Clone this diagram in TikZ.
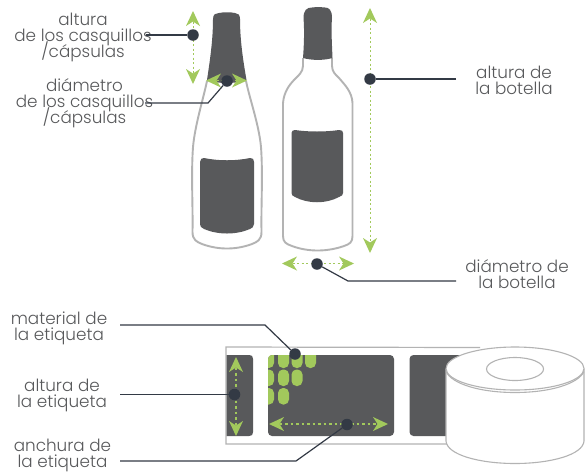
\documentclass[tikz,border=0pt]{standalone}
\usepackage{fontspec}
\setmainfont{Poppins}[UprightFont=* Light]
\usetikzlibrary{arrows.meta}
\setlength\normallineskiplimit{-20pt}
\setlength\lineskiplimit{-20pt}
\definecolor{dk}{HTML}{58595B}
\definecolor{gy}{HTML}{B3B3B3}
\definecolor{gn}{HTML}{A2C95C}
\definecolor{dt}{HTML}{333A45}
\tikzset{
  x=1pt,y=-1pt,
  lbl/.style={align=center,text=dk,font=\fontsize{16.8}{16}\selectfont,inner sep=0pt},
  dotn/.style={circle,fill=dt,minimum size=11.5pt,inner sep=0pt},
  leader/.style={draw=dt,line width=1.2pt},
  meas/.style={draw=gn,line width=0.9pt,dash pattern=on 2pt off 2.5pt,
    {Stealth[length=15pt,width=14pt,inset=4.5pt,fill=gn,line width=0pt]}-{Stealth[length=15pt,width=14pt,inset=4.5pt,fill=gn,line width=0pt]}},
  measthick/.style={meas,line width=1.3pt,dash pattern=on 2.5pt off 3pt},
  outl/.style={draw=gy,line width=1.9pt},
  rollline/.style={draw=gy,line width=1.1pt},
  oval/.style={fill=gn,rounded corners=5pt},
}
\begin{document}
\begin{tikzpicture}
\useasboundingbox (0,0) rectangle (585,472);
\fill[white] (0,0) rectangle (585,472);
% left bottle
\draw[outl,fill=white] (207,81) .. controls (203,100) and (195,125) .. (193,147)
  .. controls (191,175) and (193,205) .. (192.5,232)
  .. controls (192.5,240) and (197,242) .. (202,244)
  .. controls (218,250) and (236,250) .. (252,244)
  .. controls (257,242) and (261.5,240) .. (261.5,232)
  .. controls (261,205) and (263,175) .. (261,147)
  .. controls (259,125) and (250,100) .. (246,81);
\fill[dk] (213,19) .. controls (213,14) and (216,13) .. (219,13) .. controls (224,12) and (230,12) .. (235,13)
  .. controls (238,13) and (240,15) .. (240,19)
  .. controls (240,40) and (243,60) .. (246.5,80) .. controls (235,84) and (218,84) .. (207,80)
  .. controls (210,60) and (213,40) .. (213,19) -- cycle;
\fill[dk] (200,162) .. controls (200,159) and (202,158) .. (204,158) .. controls (218,161) and (236,161) .. (250,158)
  .. controls (253,158) and (254,159) .. (254,162) -- (254,224)
  .. controls (254,227) and (252,228) .. (250,229) .. controls (236,235) and (218,235) .. (204,229)
  .. controls (201,228) and (200,226) .. (200,224) -- cycle;
% right bottle
\draw[outl,fill=white] (303,58) -- (303,66) .. controls (303,72) and (298,76) .. (295,79)
  .. controls (289,85) and (284,92) .. (283,103)
  -- (283,236) .. controls (283,242) and (286,244) .. (292,246)
  .. controls (308,252) and (327,252) .. (344,246)
  .. controls (350,244) and (352.5,242) .. (352.5,236)
  -- (352.5,103) .. controls (352,92) and (345,85) .. (339,78)
  .. controls (336,75) and (332,72) .. (332,66) -- (332,58);
\fill[dk] (303.5,18) .. controls (303.5,10) and (307,7.5) .. (312,7.5) .. controls (316,7) and (320,7) .. (325,7.5)
  .. controls (329,7.5) and (332,10) .. (332,18)
  .. controls (331,30) and (332,45) .. (332.5,58) .. controls (324,60.5) and (312,60.5) .. (303,58)
  .. controls (304,45) and (304.5,30) .. (303.5,18) -- cycle;
\fill[dk] (291.5,133) .. controls (291.5,131) and (293,130) .. (295,130) .. controls (308,132) and (326,132) .. (339,130)
  .. controls (342,130) and (343,131) .. (343,133) -- (343,193)
  .. controls (343,195) and (342,196) .. (339,197) .. controls (326,204) and (308,204) .. (295,197)
  .. controls (292.5,196) and (291.5,195) .. (291.5,193) -- cycle;
% strip
\draw[draw=gy,line width=1.2pt] (480,347.5) -- (226,347) -- (226,444) -- (480,444);
\fill[dk] (226.5,355) -- (249,355) .. controls (252,355) and (253,356) .. (253,359) -- (253,432)
  .. controls (253,435) and (252,436) .. (249,436) -- (226.5,436) -- cycle;
\fill[dk,rounded corners=4pt] (268,355) rectangle (394,436);
\fill[dk,rounded corners=4pt] (409.5,355) rectangle (480,436);
\begin{scope}
\clip[rounded corners=4pt] (268,355) rectangle (394,436);
\foreach \xx/\yy/\hh in {263/345/23,278/345/23,291.5/345/23,305/345/23,263/369.5/16.5,278/369.5/16.5,291.5/369.5/16.5,263/388/16.5,278/388/16.5}{
  \fill[oval] (\xx,\yy) rectangle ++(11,\hh);
}
\end{scope}
% roll
\draw[rollline,fill=white] (446,369) -- (446,441)
  .. controls (447,455) and (480,463.5) .. (515,463.5)
  .. controls (550,463.5) and (583,455) .. (584,441) -- (584,369);
\draw[rollline,fill=white] (515,368.5) ellipse [x radius=69,y radius=21.5];
\draw[rollline] (446,371.5) .. controls (452,384) and (480,392.5) .. (515,392.5)
  .. controls (550,392.5) and (578,384) .. (584,371.5);
\draw[rollline] (515,369) ellipse [x radius=28.5,y radius=11.5];
% measure ends
\coordinate (a1t) at (193,11); \coordinate (a1b) at (193,84);
\coordinate (a2l) at (206,80.5); \coordinate (a2r) at (247,80.5);
\coordinate (a3t) at (370,8); \coordinate (a3b) at (370,253);
\coordinate (a4l) at (282,263.5); \coordinate (a4r) at (354,263.5);
\coordinate (a5t) at (236,357); \coordinate (a5b) at (236,436);
\coordinate (a6l) at (269,424); \coordinate (a6r) at (388,424);
\draw[meas] (a1t) -- (a1b);
\draw[meas] (a2l) -- (a2r);
\draw[meas] (a3t) -- (a3b);
\draw[meas] (a4l) -- (a4r);
\draw[measthick] (a5t) -- (a5b);
\draw[measthick] (a6l) -- (a6r);
% texts
\node[lbl] (t1) at (83,37) {altura\\de los casquillos\\/cápsulas};
\node[lbl] (t2) at (84.5,103.5) {diámetro\\de los casquillos\\/cápsulas};
\node[lbl] (t3) at (514,80) {altura de\\la botella};
\node[lbl] (t4) at (517,273.7) {diámetro de\\la botella};
\node[lbl] (t5) at (59,328.5) {material de\\la etiqueta};
\node[lbl] (t6) at (62,395.5) {altura de\\la etiqueta};
\node[lbl] (t7) at (62.5,455.5) {anchura de\\la etiqueta};
% dots
\node[dotn] (d1) at (193,35) {};
\node[dotn] (d2) at (227,81) {};
\node[dotn] (d3) at (370,79) {};
\node[dotn] (d4) at (317,264) {};
\node[dotn] (d5) at (295,354) {};
\node[dotn] (d6) at (234.5,394.5) {};
\node[dotn] (d7) at (347,424.5) {};
% leaders
\coordinate (s1) at (146,35);
\coordinate (s2) at (145,103); \coordinate (b2) at (208,103);
\coordinate (s3) at (456,79);
\coordinate (s4) at (456,281); \coordinate (b4) at (348,281);
\coordinate (s5) at (120,325); \coordinate (b5) at (265,325);
\coordinate (s6) at (120,394.5);
\coordinate (s7) at (120,461); \coordinate (b7) at (296,461);
\draw[leader] (s1) -- (d1);
\draw[leader] (s2) -- (b2) -- (d2);
\draw[leader] (s3) -- (d3);
\draw[leader] (s4) -- (b4) -- (d4);
\draw[leader] (s5) -- (b5) -- (d5);
\draw[leader] (s6) -- (d6);
\draw[leader] (s7) -- (b7) -- (d7);
\end{tikzpicture}
\end{document}
